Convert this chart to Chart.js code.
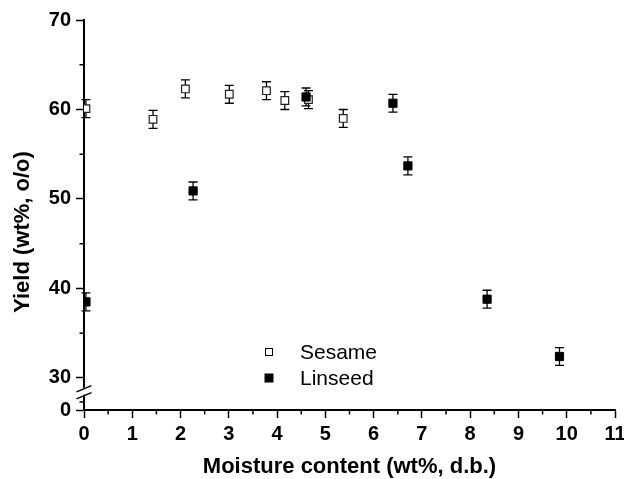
<!DOCTYPE html>
<html>
<head>
<meta charset="utf-8">
<style>
  html, body { margin: 0; padding: 0; background: #fff; }
  #wrap { width: 624px; height: 479px; position: relative; }
</style>
<script src="https://cdn.jsdelivr.net/npm/chart.js@4/dist/chart.umd.min.js"></script>
</head>
<body>
<div id="wrap"><canvas id="chart" width="624" height="479"></canvas></div>
<script>
// Oil yield versus seed moisture content
const sesameMoisture = [0.04, 1.43, 2.10, 3.01, 3.78, 4.16, 4.65, 5.37];
const sesameYield    = [60.1, 58.9, 62.3, 61.7, 62.1, 61.0, 61.1, 59.0];
const sesameError    = [1.0, 1.0, 1.0, 1.0, 1.0, 1.0, 1.0, 1.0];

const linseedMoisture = [0.04, 2.26, 4.60, 6.40, 6.71, 8.35, 9.85];
const linseedYield    = [38.5, 50.9, 61.4, 60.7, 53.7, 38.8, 32.4];
const linseedError    = [1.0, 1.0, 1.0, 1.0, 1.0, 1.0, 1.0];

const xTicks = [0, 1, 2, 3, 4, 5, 6, 7, 8, 9, 10, 11];
const yTicks = [0, 30, 40, 50, 60, 70];
const yMinorTicks = [35, 45, 55, 65];

// Broken y axis: the "0" tick sits just below the 30 tick
const Y_ZERO_POS = 26.42;
const Y_MAX = 70;

const FONT = '"Liberation Sans", Arial, Helvetica, sans-serif';

function toPoints(xs, ys) {
  return xs.map((x, i) => ({ x: x, y: ys[i] }));
}

const errorBars = {
  id: 'errorBars',
  beforeDatasetsDraw(chart) {
    const ctx = chart.ctx;
    const ys = chart.scales.y;
    ctx.save();
    ctx.strokeStyle = '#000';
    ctx.lineWidth = 1.3;
    chart.data.datasets.forEach((ds, di) => {
      const meta = chart.getDatasetMeta(di);
      meta.data.forEach((pt, i) => {
        const v = ds.data[i].y, e = ds.errors[i];
        const top = ys.getPixelForValue(v + e);
        const bot = ys.getPixelForValue(v - e);
        const x = pt.x;
        ctx.beginPath();
        ctx.moveTo(x, top); ctx.lineTo(x, bot);
        ctx.moveTo(x - 4.5, top); ctx.lineTo(x + 4.5, top);
        ctx.moveTo(x - 4.5, bot); ctx.lineTo(x + 4.5, bot);
        ctx.stroke();
      });
    });
    ctx.restore();
  }
};

const decorations = {
  id: 'decorations',
  afterDraw(chart) {
    const ctx = chart.ctx;
    const xs = chart.scales.x, ys = chart.scales.y;
    const area = chart.chartArea;
    ctx.save();
    ctx.strokeStyle = '#000';
    ctx.lineWidth = 1.5;

    // minor ticks on the x axis
    for (let v = 0.5; v < 11; v += 1) {
      const px = xs.getPixelForValue(v);
      ctx.beginPath();
      ctx.moveTo(px, area.bottom); ctx.lineTo(px, area.bottom + 4.5);
      ctx.stroke();
    }
    // minor ticks on the y axis
    yMinorTicks.concat([Y_ZERO_POS + 0.9]).forEach(v => {
      const py = ys.getPixelForValue(v);
      ctx.beginPath();
      ctx.moveTo(area.left, py); ctx.lineTo(area.left - 4.5, py);
      ctx.stroke();
    });

    // axis break marks between 0 and 30
    const ax = area.left;
    const yb = ys.getPixelForValue(28.5);
    ctx.fillStyle = '#fff';
    ctx.beginPath();
    ctx.moveTo(ax - 3, yb - 2.5);
    ctx.lineTo(ax + 3, yb - 5);
    ctx.lineTo(ax + 3, yb + 2);
    ctx.lineTo(ax - 3, yb + 4.5);
    ctx.closePath();
    ctx.fill();
    ctx.lineWidth = 1.5;
    ctx.beginPath();
    ctx.moveTo(ax - 7.5, yb + 0.5); ctx.lineTo(ax + 7.5, yb - 5.8);
    ctx.moveTo(ax - 7.5, yb + 7.5); ctx.lineTo(ax + 7.5, yb + 1.2);
    ctx.stroke();

    // legend inside the plot
    const legendRows = [
      { label: 'Sesame', fill: '#fff', size: 7, y: 352 },
      { label: 'Linseed', fill: '#000', size: 8, y: 378 }
    ];
    ctx.font = '21px ' + FONT;
    ctx.textBaseline = 'middle';
    ctx.textAlign = 'left';
    legendRows.forEach(r => {
      ctx.fillStyle = r.fill;
      ctx.fillRect(269 - r.size / 2, r.y - r.size / 2, r.size, r.size);
      ctx.strokeStyle = '#000';
      ctx.lineWidth = 1;
      ctx.strokeRect(269 - r.size / 2, r.y - r.size / 2, r.size, r.size);
      ctx.fillStyle = '#000';
      ctx.fillText(r.label, 300, r.y + 1);
    });

    // axis titles
    ctx.font = 'bold 22px ' + FONT;
    ctx.textAlign = 'center';
    ctx.fillText('Moisture content (wt%, d.b.)', (area.left + area.right) / 2, 467);
    ctx.translate(23, 232);
    ctx.rotate(-Math.PI / 2);
    ctx.fillText('Yield (wt%, o/o)', 0, 0);
    ctx.restore();
  }
};

new Chart(document.getElementById('chart'), {
  type: 'scatter',
  data: {
    datasets: [
      {
        label: 'Sesame',
        data: toPoints(sesameMoisture, sesameYield),
        errors: sesameError,
        pointStyle: 'rect',
        pointRadius: 5.4,
        pointHoverRadius: 5.4,
        backgroundColor: '#fff',
        borderColor: '#222',
        borderWidth: 1.2,
        order: 1
      },
      {
        label: 'Linseed',
        data: toPoints(linseedMoisture, linseedYield),
        errors: linseedError,
        pointStyle: 'rect',
        pointRadius: 5.8,
        pointHoverRadius: 5.8,
        backgroundColor: '#000',
        borderColor: '#000',
        borderWidth: 1,
        order: 0
      }
    ]
  },
  options: {
    responsive: false,
    animation: false,
    layout: { padding: { top: 20, right: 9, left: 0, bottom: 0 } },
    plugins: { legend: { display: false }, tooltip: { enabled: false } },
    scales: {
      x: {
        type: 'linear',
        min: 0, max: 11,
        afterBuildTicks(s) { s.ticks = xTicks.map(v => ({ value: v })); },
        afterFit(s) { s.height = 69; s.paddingLeft = 0; s.paddingRight = 0; },
        border: { display: true, color: '#000', width: 2 },
        grid: { drawOnChartArea: false, drawTicks: true, tickLength: 8, tickWidth: 1.5, tickColor: '#000' },
        ticks: {
          color: '#000', padding: 4, maxRotation: 0,
          font: { family: FONT, size: 20, weight: 'bold' },
          callback: v => String(v)
        }
      },
      y: {
        type: 'linear',
        min: Y_ZERO_POS, max: Y_MAX,
        afterBuildTicks(s) {
          s.ticks = yTicks.map(v => ({ value: v === 0 ? Y_ZERO_POS : v }));
        },
        afterFit(s) { s.width = 84; s.paddingTop = 0; s.paddingBottom = 0; },
        border: { display: true, color: '#000', width: 2 },
        grid: { drawOnChartArea: false, drawTicks: true, tickLength: 8, tickWidth: 1.5, tickColor: '#000' },
        ticks: {
          color: '#000', padding: 5,
          font: { family: FONT, size: 20, weight: 'bold' },
          callback: v => (Math.abs(v - Y_ZERO_POS) < 1e-6 ? '0' : String(v))
        }
      }
    }
  },
  plugins: [errorBars, decorations]
});
</script>
</body>
</html>
